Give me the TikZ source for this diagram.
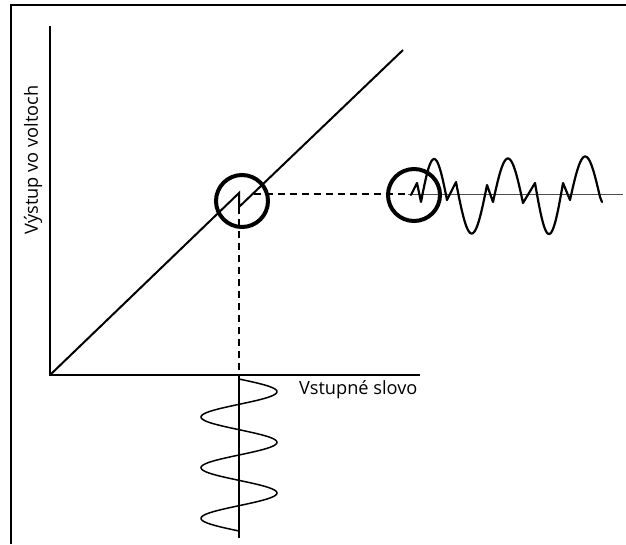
\documentclass[tikz,border=0pt]{standalone}
\usepackage{fontspec}
\setmainfont{Open Sans}
\begin{document}
\begin{tikzpicture}[x=1pt,y=-1pt,
  frame/.style={line width=2.5pt,black},
  axis/.style={line width=1.5pt,black},
  diag/.style={line width=2pt,black,line join=miter},
  guide/.style={line width=1.3pt,black,dash pattern=on 7pt off 5pt},
  ring/.style={draw,line width=4pt,black,circle,minimum size=52pt,inner sep=0pt},
  wave/.style={line width=2.2pt,black,line join=round,line cap=round},
  swave/.style={line width=1.5pt,black},
  base/.style={line width=1pt,black!70},
  lbl/.style={inner sep=0pt,font=\fontsize{18.2}{20}\selectfont}]
\useasboundingbox (0,0) rectangle (626,544);
% frame (left and top)
\draw[frame] (11,544) -- (11,5) -- (626,5);
% coordinates
\coordinate (O) at (50,375);
\coordinate (Ytop) at (50,26);
\coordinate (Xend) at (420,375);
\coordinate (G1) at (239,193);
\coordinate (G2) at (239,207);
\coordinate (Dend) at (403,50);
\coordinate (Hs) at (253.5,194);
\coordinate (He) at (408,194);
\coordinate (Be) at (623,194);
\coordinate (Vb) at (239,375);
\coordinate (Ve) at (239,538);
% axes
\draw[axis] (Ytop) -- (O) -- (Xend);
% transfer line with glitch
\draw[diag] (O) -- (G1) -- (G2) -- (Dend);
% guides
\draw[guide] (Hs) -- (He);
\draw[guide] (G2) -- (Vb);
% baseline of output wave
\draw[base] (He) -- (Be);
% input axis below
\draw[swave] (Vb) -- (Ve);
% input sine
\draw[swave] plot[domain=0:152,samples=150,variable=\u] ({239+38*sin(7.1048*\u)},{379+\u});
% output wave
\draw[wave] (411,195) -- (417,183) -- (421,202)
 -- plot[domain=0:180,samples=40,variable=\t] ({421+26*\t/180},{202-2*\t/180-42*sin(\t)})
 -- (456,182)
 -- plot[domain=0:180,samples=40,variable=\t] ({456+31*\t/180},{182+3*\t/180+50*sin(\t)})
 -- (493,202)
 -- plot[domain=0:180,samples=40,variable=\t] ({493+30*\t/180},{202+1*\t/180-44*sin(\t)})
 -- (535,183)
 -- plot[domain=0:180,samples=40,variable=\t] ({535+28*\t/180},{183+51*sin(\t)})
 -- (570,200)
 -- plot[domain=0:180,samples=40,variable=\t] ({570+30*\t/180},{200-3*\t/180-42*sin(\t)})
 -- (602,202);
% circles
\node[ring] (c1) at (242,201) {};
\node[ring] (c2) at (414,195) {};
% labels
\node[lbl,rotate=90] (ylab) at (33,160) {Výstup vo voltoch};
\node[lbl,anchor=west] (xlab) at (299,390) {Vstupné slovo};
\end{tikzpicture}
\end{document}
